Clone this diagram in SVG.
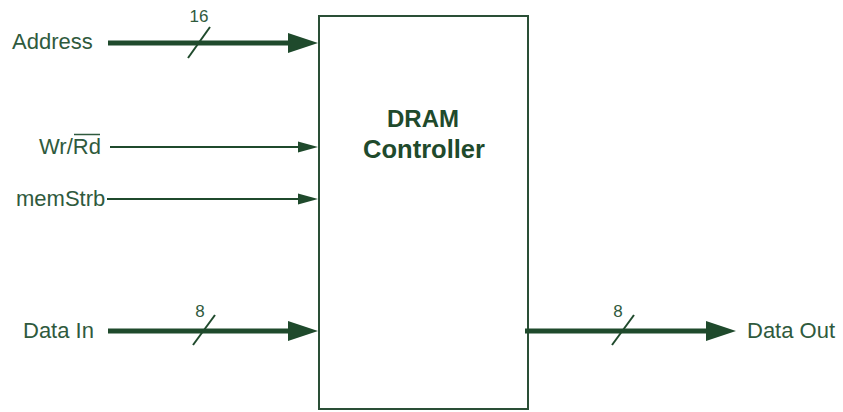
<svg xmlns="http://www.w3.org/2000/svg" width="843" height="412" viewBox="0 0 843 412">
<style>
.lbl{font-family:"Liberation Sans",Arial,sans-serif;font-size:22px;fill:#2f5a3d}
.num{font-family:"Liberation Sans",Arial,sans-serif;font-size:17px;fill:#2f5a3d}
.title{font-family:"Liberation Sans",Arial,sans-serif;font-size:24px;font-weight:bold;fill:#1f4a2c}
.bus{stroke:#1f4a2c;stroke-width:5;fill:none}
.sig{stroke:#1f4a2c;stroke-width:2;fill:none}
.slash{stroke:#1f4a2c;stroke-width:2;fill:none}
.head{fill:#1f4a2c}
</style>
<rect width="843" height="412" fill="#ffffff"/>
<g id="controller">
<rect x="319" y="16" width="209" height="393" fill="#ffffff" stroke="#2a4f36" stroke-width="2"/>
<text class="title" x="423" y="127" text-anchor="middle">DRAM</text>
<text class="title" x="424" y="158" text-anchor="middle" style="font-size:25.5px">Controller</text>
</g>
<g id="address"><text class="lbl" x="12" y="49">Address</text></g>
<g id="wrrd"><text class="lbl" x="39" y="154">Wr/Rd</text><line x1="74" y1="134.5" x2="100" y2="134.5" stroke="#2f5a3d" stroke-width="1.5"/></g>
<g id="memstrb"><text class="lbl" x="16" y="206">memStrb</text></g>
<g id="datain"><text class="lbl" x="23" y="338">Data In</text></g>
<g id="dataout"><text class="lbl" x="747" y="338">Data Out</text></g>
<g id="connectors">
<line class="bus" x1="108" y1="43" x2="292" y2="43"/>
<polygon class="head" points="288,33 318,43 288,53"/>
<line class="slash" x1="188" y1="58" x2="210" y2="27"/>
<text class="num" x="199" y="22" text-anchor="middle">16</text>
<line class="sig" x1="110" y1="147" x2="300" y2="147"/>
<polygon class="head" points="298,141.5 318,147 298,152.5"/>
<line class="sig" x1="107" y1="199" x2="300" y2="199"/>
<polygon class="head" points="298,193.5 318,199 298,204.5"/>
<line class="bus" x1="108" y1="331" x2="292" y2="331"/>
<polygon class="head" points="288,321 318,331 288,341"/>
<line class="slash" x1="193" y1="345" x2="215" y2="315"/>
<text class="num" x="200" y="317" text-anchor="middle">8</text>
<line class="bus" x1="525" y1="331" x2="710" y2="331"/>
<polygon class="head" points="706,321 736,331 706,341"/>
<line class="slash" x1="612" y1="345" x2="634" y2="315"/>
<text class="num" x="618" y="317" text-anchor="middle">8</text>
</g>
</svg>
